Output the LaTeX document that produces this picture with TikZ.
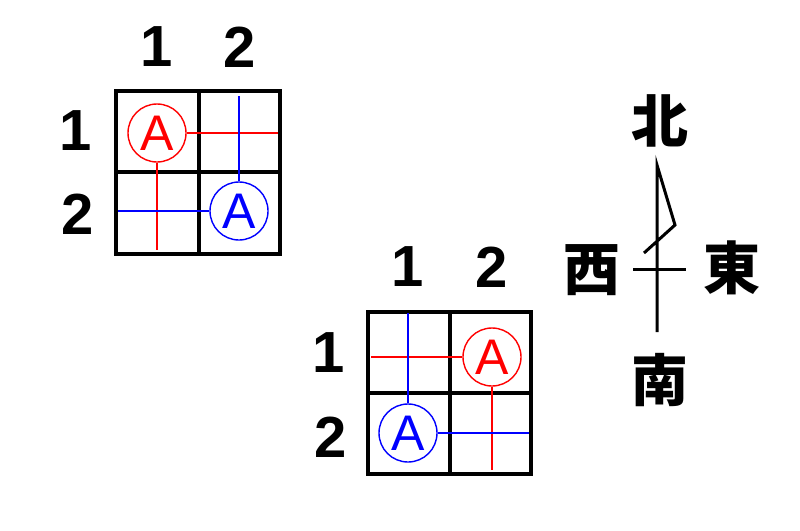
\documentclass[tikz,border=0pt]{standalone}
\usepackage{fontspec}
\setmainfont{Liberation Sans}
\newfontfamily\cjk{Noto Sans CJK JP}
\begin{document}
\begin{tikzpicture}[x=1pt,y=-1pt,
  gridline/.style={line width=4pt,black},
  digit/.style={font=\fontsize{58}{60}\selectfont\bfseries,inner sep=0pt},
  circA/.style={circle,draw,line width=1.4pt,minimum size=58pt,inner sep=0pt,font=\fontsize{50}{52}\selectfont},
  guide/.style={line width=1.4pt},
  dir/.style={font=\cjk\bfseries\fontsize{57}{59}\selectfont,inner sep=0pt},
  compass/.style={line width=3pt,line join=miter}]
\path[use as bounding box,fill=white] (0,0) rectangle (800,530);

% ---- grid 1 ----
\draw[gridline] (116,91) rectangle (280,254);
\draw[gridline] (199,91) -- (199,254);
\draw[gridline] (116,172) -- (280,172);
\node[digit] (g1c1) at (157,47) {1};
\node[digit] (g1c2) at (240,47) {2};
\node[digit] (g1r1) at (76,131) {1};
\node[digit] (g1r2) at (78,214) {2};
\node[circA,red] (g1a) at (157,133) {A};
\node[circA,blue] (g1b) at (239,211) {A};
\coordinate (g1ae) at (278,133);
\coordinate (g1as) at (157,250);
\coordinate (g1bn) at (239,96);
\coordinate (g1bw) at (118,211);
\draw[guide,red] (g1a.east) -- (g1ae);
\draw[guide,red] (g1a.south) -- (g1as);
\draw[guide,blue] (g1b.north) -- (g1bn);
\draw[guide,blue] (g1b.west) -- (g1bw);

% ---- grid 2 ----
\draw[gridline] (368,312) rectangle (531,474);
\draw[gridline] (450,312) -- (450,474);
\draw[gridline] (368,393) -- (531,393);
\node[digit] (g2c1) at (408,267) {1};
\node[digit] (g2c2) at (492,267) {2};
\node[digit] (g2r1) at (329,353) {1};
\node[digit] (g2r2) at (331,437) {2};
\node[circA,red] (g2a) at (492,357) {A};
\node[circA,blue] (g2b) at (408,433) {A};
\coordinate (g2aw) at (371,357);
\coordinate (g2as) at (492,470);
\coordinate (g2bn) at (408,313);
\coordinate (g2be) at (529,433);
\draw[guide,red] (g2a.west) -- (g2aw);
\draw[guide,red] (g2a.south) -- (g2as);
\draw[guide,blue] (g2b.north) -- (g2bn);
\draw[guide,blue] (g2b.east) -- (g2be);

% ---- compass ----
\node[dir] (n) at (660,121) {北};
\node[dir] (w) at (592,270) {西};
\node[dir] (e) at (732,268) {東};
\node[dir] (s) at (660,380) {南};
\coordinate (ntop) at (657,165);
\coordinate (sbot) at (657,332);
\coordinate (tip1) at (675,225);
\coordinate (tip2) at (644,253);
\coordinate (wl) at (633,269);
\coordinate (er) at (686,269);
\draw[compass] (sbot) -- (ntop) -- (tip1) -- (tip2);
\draw[compass] (wl) -- (er);
\end{tikzpicture}
\end{document}
